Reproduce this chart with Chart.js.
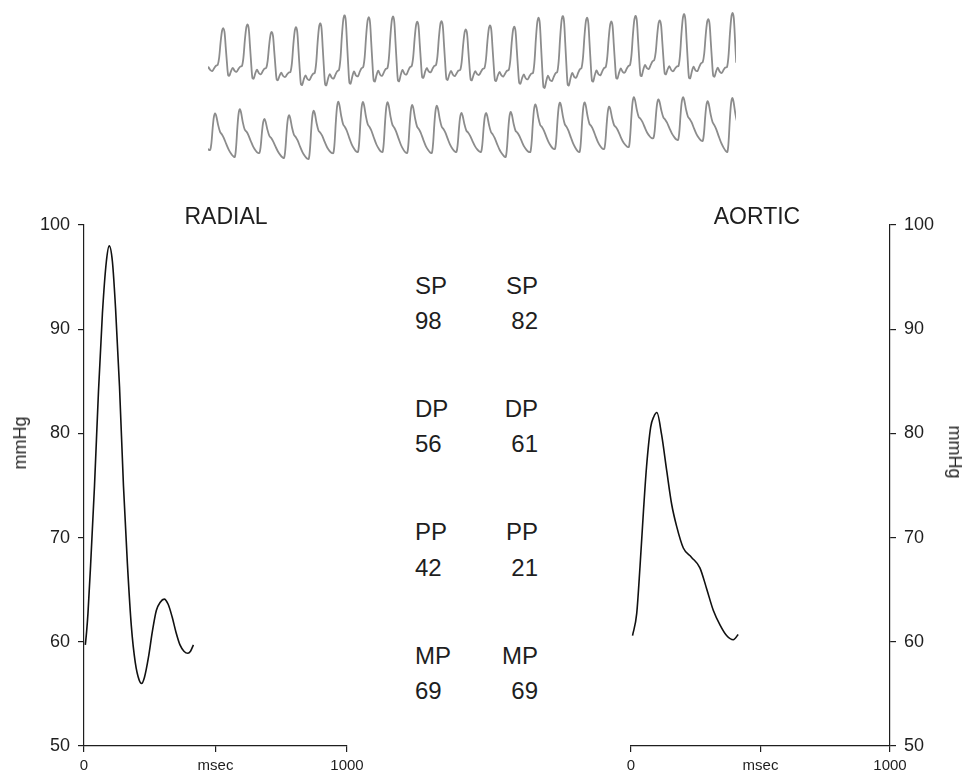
<!DOCTYPE html>
<html>
<head>
<meta charset="utf-8">
<title>Radial and aortic pressure waveforms</title>
<script src="https://cdn.jsdelivr.net/npm/chart.js@4.4.1/dist/chart.umd.min.js"></script>
<style>
  html, body { margin: 0; padding: 0; background: #fff; }
  body {
    width: 976px; height: 774px; position: relative; overflow: hidden;
    font-family: "Liberation Sans", Arial, Helvetica, sans-serif; color: #1e1e1e;
  }
  .box { position: absolute; }
  .lbl { position: absolute; white-space: nowrap; line-height: 1; }
  #stripChart { filter: blur(0.35px); }
</style>
</head>
<body>
<div class="box" style="left:208px;top:5px;width:528px;height:165px"><canvas id="stripChart"></canvas></div>
<div class="box" style="left:0;top:190px;width:380px;height:584px"><canvas id="radialChart"></canvas></div>
<div class="box" style="left:596px;top:190px;width:380px;height:584px"><canvas id="aorticChart"></canvas></div>
<div id="labels"></div>

<script>
// Averaged waveforms (time in msec, pressure in mmHg)
const radialTime = [5, 10, 15, 25, 40, 55, 70, 85, 96, 108, 120, 135, 150, 165, 180, 195, 210, 219, 230, 245, 260, 275, 290, 305, 320, 335, 350, 365, 380, 395, 405, 416];
const radialPressure = [59.7, 61, 62.7, 67.3, 75, 84, 91.5, 96.5, 98, 96.5, 92, 84.5, 75, 67.5, 61.5, 58, 56.3, 56, 56.6, 58.5, 61, 63, 63.8, 64.1, 63.6, 62.4, 60.9, 59.7, 59.1, 58.9, 59.1, 59.7];

const aorticTime = [6, 22, 35, 48, 60, 76, 88, 100, 118, 138, 157, 176, 202, 234, 266, 292, 318, 344, 369, 395, 414];
const aorticPressure = [60.6, 62.7, 67.3, 72.5, 76.8, 80.6, 81.6, 82, 79.9, 76.4, 73.2, 71.1, 69, 68.1, 67.1, 65.1, 63, 61.6, 60.6, 60.2, 60.7];

const xTicks = [0, 500, 1000];
const xTickNames = ['0', 'msec', '1000'];

// Summary values
const statNames = ['SP', 'DP', 'PP', 'MP'];
const radialStats = [98, 56, 42, 69];
const aorticStats = [82, 61, 21, 69];

// Raw recording strip (uncalibrated units): level per beat
const stripTopPeaks = [142, 146, 139, 143, 146, 154, 153, 153, 148, 150, 140, 145, 144, 152, 153, 152, 148, 153, 151, 155, 152, 157];
const stripTopFeet = [105, 104, 102, 98, 97, 100, 103, 102, 104, 105, 100, 102, 100, 97, 98, 102, 103, 105, 110, 104, 108, 103];
const stripBottomPeaks = [58, 60, 52, 55, 58, 68, 68, 68, 65, 64, 57, 58, 57, 65, 68, 67, 63, 71, 71, 73, 71, 72];
const stripBottomFeet = [20, 13, 17, 12, 11, 17, 18, 18, 17, 17, 18, 18, 13, 18, 21, 18, 21, 23, 32, 30, 29, 18];

// Beat shapes of the strip (phase within a beat, level 0 = foot, 1 = peak)
const topBeatPhase = [0, 0.06, 0.12, 0.18, 0.23, 0.28, 0.33, 0.38, 0.43, 0.48, 0.55, 0.62, 0.70, 0.78, 0.86, 0.93];
const topBeatLevel = [0, 0.2, 0.62, 0.93, 1.0, 0.9, 0.5, 0.08, -0.26, -0.28, -0.15, -0.06, -0.14, -0.16, -0.08, -0.02];
const bottomBeatPhase = [0, 0.05, 0.10, 0.15, 0.20, 0.25, 0.32, 0.40, 0.47, 0.55, 0.65, 0.75, 0.85, 0.93];
const bottomBeatLevel = [0, 0.2, 0.6, 0.9, 1.0, 0.93, 0.72, 0.55, 0.5, 0.42, 0.28, 0.15, 0.06, 0.01];

const FONT = '"Liberation Sans", Arial, Helvetica, sans-serif';
const INK = '#1e1e1e';

function toPoints(xs, ys) {
    return xs.map((x, i) => ({ x: x, y: ys[i] }));
}

// Strip: each beat is the shape stretched between its foot and peak levels
function buildStrip(peaks, feet, phases, levels) {
    const pts = [];
    const n = peaks.length;
    for (let b = -1; b < n; b++) {
        const i = Math.max(b, 0);
        const f0 = feet[i];
        const f1 = b < 0 ? feet[0] : feet[Math.min(i + 1, n - 1)];
        const pk = peaks[i];
        phases.forEach((ph, k) => {
            pts.push({ x: b + ph, y: f0 + (f1 - f0) * ph + levels[k] * (pk - f0) });
        });
    }
    return pts;
}

new Chart(document.getElementById('stripChart'), {
    type: 'line',
    data: {
        datasets: [
            {
                data: buildStrip(stripTopPeaks, stripTopFeet, topBeatPhase, topBeatLevel),
                xAxisID: 'xTop',
                borderColor: '#8c8c8c', borderWidth: 1.8, pointRadius: 0, tension: 0.3
            },
            {
                data: buildStrip(stripBottomPeaks, stripBottomFeet, bottomBeatPhase, bottomBeatLevel),
                xAxisID: 'xBottom',
                borderColor: '#8c8c8c', borderWidth: 1.8, pointRadius: 0, tension: 0.3
            }
        ]
    },
    options: {
        responsive: true, maintainAspectRatio: false, animation: false,
        layout: { padding: 0 },
        plugins: { legend: { display: false }, tooltip: { enabled: false } },
        scales: {
            xTop: { type: 'linear', min: -0.4, max: 21.37, display: false },
            xBottom: { type: 'linear', min: -0.09, max: 21.35, display: false },
            y: { min: 0, max: 165, display: false }
        }
    }
});

function waveChart(id, xs, ys, side, padding, yWidth) {
    const axisLine = { display: true, color: INK, width: 1.2 };
    const tickGrid = { drawOnChartArea: false, drawTicks: true, tickLength: 6, color: INK, lineWidth: 1.2 };
    return new Chart(document.getElementById(id), {
        type: 'line',
        data: {
            datasets: [{
                data: toPoints(xs, ys),
                borderColor: '#111', borderWidth: 1.6, pointRadius: 0,
                cubicInterpolationMode: 'monotone', fill: false
            }]
        },
        options: {
            responsive: true, maintainAspectRatio: false, animation: false,
            layout: { padding: padding },
            plugins: { legend: { display: false }, tooltip: { enabled: false } },
            scales: {
                x: {
                    type: 'linear', min: 0, max: 1000,
                    afterBuildTicks: s => { s.ticks = xTicks.map(v => ({ value: v })); },
                    afterFit: s => { s.height = 28; },
                    ticks: {
                        callback: v => xTickNames[xTicks.indexOf(v)],
                        maxRotation: 0, padding: 5, color: INK,
                        font: { family: FONT, size: 15 }
                    },
                    grid: tickGrid, border: axisLine
                },
                y: {
                    position: side, min: 50, max: 100,
                    afterFit: s => { s.width = yWidth; },
                    ticks: { stepSize: 10, padding: 8, color: INK, font: { family: FONT, size: 18 } },
                    grid: tickGrid, border: axisLine
                }
            }
        }
    });
}

waveChart('radialChart', radialTime, radialPressure, 'left', { top: 35, right: 33, left: 0, bottom: 0 }, 84);
waveChart('aorticChart', aorticTime, aorticPressure, 'right', { top: 35, left: 35, right: 0, bottom: 0 }, 86);

// Text labels
const labels = document.getElementById('labels');
function addLabel(text, css) {
    const d = document.createElement('div');
    d.className = 'lbl';
    d.textContent = text;
    Object.assign(d.style, css);
    labels.appendChild(d);
}

addLabel('RADIAL', { left: '226px', top: '205px', fontSize: '23px', transform: 'translateX(-50%)' });
addLabel('AORTIC', { left: '757px', top: '205px', fontSize: '23px', transform: 'translateX(-50%)' });
addLabel('mmHg', { left: '20px', top: '443px', fontSize: '18px', transform: 'translate(-50%, -50%) rotate(-90deg)' });
addLabel('mmHg', { left: '955px', top: '452px', fontSize: '18px', transform: 'translate(-50%, -50%) rotate(90deg)' });

statNames.forEach((name, k) => {
    const base = 294 + 123.3 * k;
    addLabel(name, { left: '415px', top: (base - 20.3) + 'px', fontSize: '24px' });
    addLabel(String(radialStats[k]), { left: '415px', top: (base + 35.3 - 20.3) + 'px', fontSize: '24px' });
    addLabel(name, { right: '438px', top: (base - 20.3) + 'px', fontSize: '24px', textAlign: 'right' });
    addLabel(String(aorticStats[k]), { right: '438px', top: (base + 35.3 - 20.3) + 'px', fontSize: '24px', textAlign: 'right' });
});
</script>
</body>
</html>
